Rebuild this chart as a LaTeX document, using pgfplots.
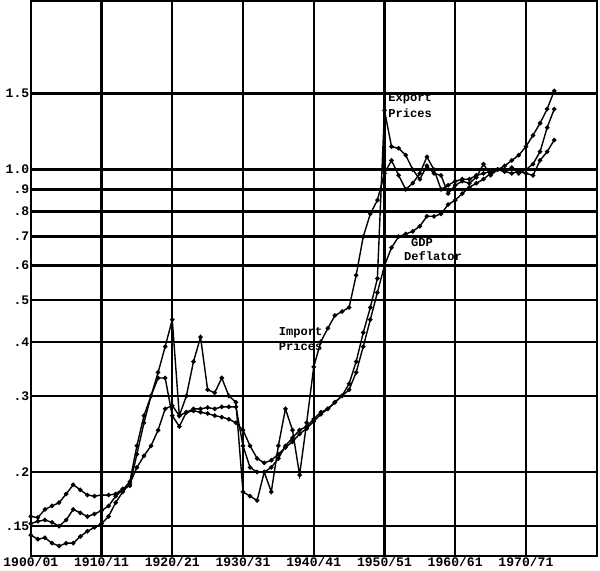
\documentclass[border=0pt]{standalone}
\usepackage{fontspec}
\setmainfont{Liberation Mono}
\usepackage{pgfplots}
\usepackage{pgfplotstable}
\pgfplotsset{compat=1.18}

% Volatile series (labelled Import Prices in the 1940s)
\pgfplotstableread{
year val
1900 0.158
1901 0.157
1902 0.164
1903 0.167
1904 0.170
1905 0.178
1906 0.187
1907 0.182
1908 0.177
1909 0.176
1910 0.177
1911 0.177
1912 0.178
1913 0.183
1914 0.186
1915 0.22
1916 0.26
1917 0.30
1918 0.34
1919 0.39
1920 0.45
1921 0.27
1922 0.30
1923 0.36
1924 0.41
1925 0.31
1926 0.305
1927 0.33
1928 0.30
1929 0.29
1930 0.18
1931 0.176
1932 0.172
1933 0.20
1934 0.18
1935 0.23
1936 0.28
1937 0.25
1938 0.197
1939 0.26
1940 0.35
1941 0.40
1942 0.43
1943 0.46
1944 0.47
1945 0.48
1946 0.57
1947 0.70
1948 0.79
1949 0.85
1950 0.98
1951 1.05
1952 0.97
1953 0.90
1954 0.93
1955 0.98
1956 1.07
1957 1.00
1958 0.90
1959 0.92
1960 0.94
1961 0.95
1962 0.95
1963 0.97
1964 0.98
1965 0.99
1966 1.00
1967 0.99
1968 0.98
1969 0.99
1970 0.98
1971 0.97
1972 1.05
1973 1.10
1974 1.17
}\importdata

% Series with the 1950/51 spike (Export Prices)
\pgfplotstableread{
year val
1900 0.152
1901 0.154
1902 0.155
1903 0.153
1904 0.150
1905 0.155
1906 0.164
1907 0.161
1908 0.158
1909 0.160
1910 0.163
1911 0.167
1912 0.176
1913 0.182
1914 0.190
1915 0.23
1916 0.27
1917 0.30
1918 0.33
1919 0.33
1920 0.27
1921 0.255
1922 0.275
1923 0.280
1924 0.280
1925 0.282
1926 0.280
1927 0.283
1928 0.283
1929 0.283
1930 0.23
1931 0.205
1932 0.200
1933 0.200
1934 0.205
1935 0.215
1936 0.230
1937 0.240
1938 0.250
1939 0.255
1940 0.265
1941 0.275
1942 0.280
1943 0.290
1944 0.300
1945 0.320
1946 0.360
1947 0.420
1948 0.480
1949 0.560
1950 1.37
1951 1.13
1952 1.12
1953 1.08
1954 1.00
1955 0.95
1956 1.02
1957 0.98
1958 0.97
1959 0.88
1960 0.92
1961 0.94
1962 0.93
1963 0.96
1964 1.03
1965 0.97
1966 1.00
1967 0.99
1968 1.01
1969 0.98
1970 1.00
1971 1.03
1972 1.10
1973 1.25
1974 1.38
}\exportdata

% GDP deflator
\pgfplotstableread{
year val
1900 0.143
1901 0.140
1902 0.141
1903 0.137
1904 0.135
1905 0.137
1906 0.137
1907 0.142
1908 0.146
1909 0.149
1910 0.152
1911 0.158
1912 0.170
1913 0.180
1914 0.188
1915 0.205
1916 0.218
1917 0.230
1918 0.250
1919 0.280
1920 0.285
1921 0.270
1922 0.275
1923 0.277
1924 0.275
1925 0.273
1926 0.270
1927 0.268
1928 0.265
1929 0.260
1930 0.250
1931 0.230
1932 0.215
1933 0.210
1934 0.213
1935 0.220
1936 0.228
1937 0.235
1938 0.245
1939 0.252
1940 0.262
1941 0.272
1942 0.280
1943 0.290
1944 0.300
1945 0.310
1946 0.340
1947 0.390
1948 0.450
1949 0.520
1950 0.600
1951 0.660
1952 0.700
1953 0.710
1954 0.720
1955 0.740
1956 0.780
1957 0.780
1958 0.790
1959 0.830
1960 0.850
1961 0.880
1962 0.910
1963 0.930
1964 0.950
1965 0.980
1966 1.000
1967 1.020
1968 1.050
1969 1.080
1970 1.130
1971 1.200
1972 1.280
1973 1.380
1974 1.520
}\deflatordata

\begin{document}
\begin{tikzpicture}
\begin{axis}[
  scale only axis,
  width=563pt, height=552pt,
  xmin=1900, xmax=1980,
  ymode=log, ymin=0.128, ymax=2.45,
  xtick={1900,1910,1920,1930,1940,1950,1960,1970,1980},
  xticklabels={1900/01,1910/11,1920/21,1930/31,1940/41,1950/51,1960/61,1970/71,{}},
  ytick={0.15,0.2,0.3,0.4,0.5,0.6,0.7,0.8,0.9,1.0,1.5},
  yticklabels={.15,.2,.3,.4,.5,.6,.7,.8,.9,1.0,1.5},
  grid=major,
  grid style={black, line width=2.3pt},
  axis line style={black, line width=2.3pt},
  major tick length=0pt,
  tick label style={font=\fontsize{13}{13}\selectfont\bfseries},
  xticklabel style={yshift=2pt},
  yticklabel style={xshift=2pt},
]
\addplot[black, line width=1.4pt, mark=*, mark size=1.5pt, mark options={fill=black}] table[x=year, y=val] {\importdata};
\addplot[black, line width=1.4pt, mark=*, mark size=1.5pt, mark options={fill=black}] table[x=year, y=val] {\exportdata};
\addplot[black, line width=1.4pt, mark=*, mark size=1.5pt, mark options={fill=black}] table[x=year, y=val] {\deflatordata};

\node[anchor=west, font=\fontsize{12}{12}\selectfont\bfseries, inner sep=1pt] at (axis cs:1950.4,1.46) {Export};
\node[anchor=west, font=\fontsize{12}{12}\selectfont\bfseries, inner sep=1pt] at (axis cs:1950.4,1.35) {Prices};
\node[anchor=west, font=\fontsize{12}{12}\selectfont\bfseries, inner sep=1pt] at (axis cs:1934.9,0.42) {Import};
\node[anchor=west, font=\fontsize{12}{12}\selectfont\bfseries, inner sep=1pt] at (axis cs:1934.9,0.39) {Prices};
\node[anchor=west, font=\fontsize{12}{12}\selectfont\bfseries, inner sep=1pt] at (axis cs:1953.6,0.68) {GDP};
\node[anchor=west, font=\fontsize{12}{12}\selectfont\bfseries, inner sep=1pt] at (axis cs:1952.6,0.63) {Deflator};
\end{axis}
\end{tikzpicture}
\end{document}
